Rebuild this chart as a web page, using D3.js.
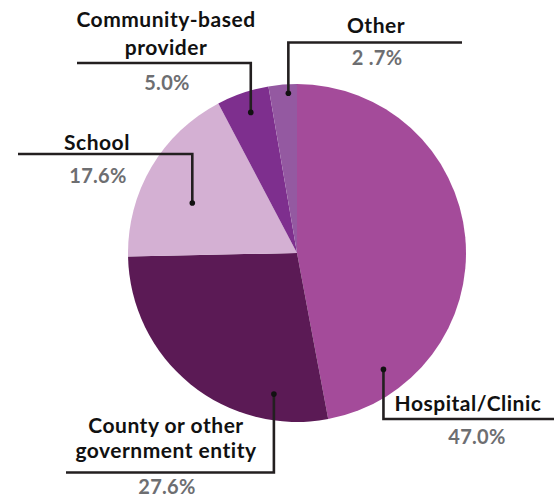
<!DOCTYPE html>
<html>
<head>
<meta charset="utf-8">
<script src="https://cdn.jsdelivr.net/npm/d3@7"></script>
<style>
  body { margin: 0; background: #fff; }
  text { font-family: Lato, "Open Sans", sans-serif; font-weight: 700; }
</style>
</head>
<body>
<div id="chart"></div>
<script>
// Chart data
const categories = ['Hospital/Clinic', 'County or other government entity', 'School', 'Community-based provider', 'Other'];
const values = [47.0, 27.6, 17.6, 5.0, 2.7];
const pctText = ['47.0%', '27.6%', '17.6%', '5.0%', '2 .7%'];
const colors = ['#a44b9a', '#5b1a55', '#d4b0d3', '#7e2f8e', '#9459a1'];

// label lines (name split in rows)
const labelRows = [
    ['Hospital/Clinic'],
    ['County or other', 'government entity'],
    ['School'],
    ['Community-based', 'provider'],
    ['Other']
];

// annotation layout: dot angle (deg, clockwise from top) and radius, elbow y, line end x, text x
const annot = [
    { ang: 143.4, r: 145, elbowY: 419, endX: 554, textX: 468, rowY: [411], pctX: 477, pctY: 444 },
    { ang: 189.3, r: 143, elbowY: 472.5, endX: 66, textX: 166, rowY: [433, 458], pctX: 167, pctY: 494 },
    { ang: 295.5, r: 116, elbowY: 154, endX: 18, textX: 97, rowY: [150], pctX: 98, pctY: 183 },
    { ang: 341.8, r: 148, elbowY: 63, endX: 77, textX: 166, rowY: [27, 55], pctX: 167, pctY: 90 },
    { ang: 356.9, r: 160, elbowY: 42.5, endX: 462, textX: 376, rowY: [33], pctX: 377, pctY: 65 }
];

const width = 554;
const height = 500;
const cx = 297, cy = 253, radius = 169;

const svg = d3.select('#chart').append('svg')
    .attr('width', width)
    .attr('height', height);

const pie = d3.pie().sort(null).value(d => d)(values);
const arc = d3.arc().innerRadius(0).outerRadius(radius);

const g = svg.append('g').attr('transform', `translate(${cx},${cy})`);

g.selectAll('path.slice')
    .data(pie)
    .enter().append('path')
    .attr('class', 'slice')
    .attr('d', arc)
    .attr('fill', (d, i) => colors[i]);

// leader lines and labels
annot.forEach((a, i) => {
    const rad = a.ang * Math.PI / 180;
    const dx = cx + a.r * Math.sin(rad);
    const dy = cy - a.r * Math.cos(rad);

    svg.append('path')
        .attr('d', `M${dx},${dy} L${dx},${a.elbowY} L${a.endX},${a.elbowY}`)
        .attr('fill', 'none')
        .attr('stroke', '#231f20')
        .attr('stroke-width', 2.6);

    svg.append('circle')
        .attr('cx', dx)
        .attr('cy', dy)
        .attr('r', 2.8)
        .attr('fill', '#111');

    labelRows[i].forEach((t, j) => {
        svg.append('text')
            .attr('x', a.textX)
            .attr('y', a.rowY[j])
            .attr('text-anchor', 'middle')
            .attr('font-size', 21)
            .attr('letter-spacing', 0.5)
            .attr('fill', '#111')
            .text(t);
    });

    svg.append('text')
        .attr('x', a.pctX)
        .attr('y', a.pctY)
        .attr('text-anchor', 'middle')
        .attr('font-size', 20)
        .attr('letter-spacing', 0.3)
        .attr('fill', '#6d6e71')
        .text(pctText[i]);
});
</script>
</body>
</html>
